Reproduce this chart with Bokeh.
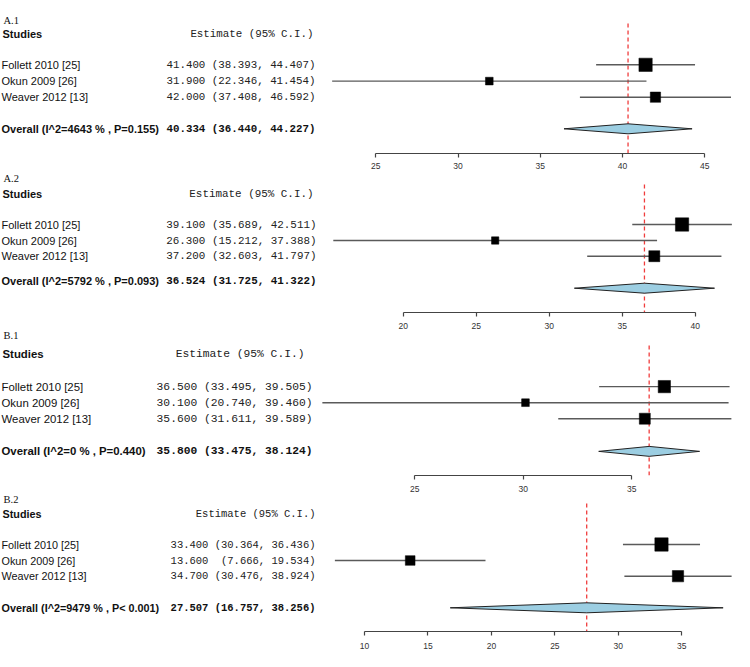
from bokeh.plotting import figure
from bokeh.layouts import column
from bokeh.models import ColumnDataSource, Range1d, LinearAxis, FixedTicker
from bokeh.embed import file_html
from bokeh.resources import INLINE
from bokeh.core.properties import value

# ---------------- data ----------------
studies = ["Follett 2010 [25]", "Okun 2009 [26]", "Weaver 2012 [13]"]
panel_names = ["A.1", "A.2", "B.1", "B.2"]

a1_est = [41.400, 31.900, 42.000]
a1_lo = [38.393, 22.346, 37.408]
a1_hi = [44.407, 41.454, 46.592]
a1_overall = [40.334, 36.440, 44.227]
a1_overall_label = "Overall (I^2=4643 % , P=0.155)"
a1_ticks = [25, 30, 35, 40, 45]
a1_box = [13.3, 7.7, 10.3]

a2_est = [39.100, 26.300, 37.200]
a2_lo = [35.689, 15.212, 32.603]
a2_hi = [42.511, 37.388, 41.797]
a2_overall = [36.524, 31.725, 41.322]
a2_overall_label = "Overall (I^2=5792 % , P=0.093)"
a2_ticks = [20, 25, 30, 35, 40]
a2_box = [13.3, 7.3, 11.0]

b1_est = [36.500, 30.100, 35.600]
b1_lo = [33.495, 20.740, 31.611]
b1_hi = [39.505, 39.460, 39.589]
b1_overall = [35.800, 33.475, 38.124]
b1_overall_label = "Overall (I^2=0 % , P=0.440)"
b1_ticks = [25, 30, 35]
b1_box = [12.3, 7.7, 11.0]

b2_est = [33.400, 13.600, 34.700]
b2_lo = [30.364, 7.666, 30.476]
b2_hi = [36.436, 19.534, 38.924]
b2_overall = [27.507, 16.757, 38.256]
b2_overall_label = "Overall (I^2=9479 % , P< 0.001)"
b2_ticks = [10, 15, 20, 25, 30, 35]
b2_box = [13.3, 9.7, 11.3]

# ---------------- layout (pixels) ----------------
W = 734
SANS = "Liberation Sans"
MONO = "Liberation Mono"
SERIF = "Liberation Serif"

layouts = [
    dict(height=172, frame=153, px_first=375.3, px_last=704.3,
         label_y=19.5, head_y=33.5, rows=[64.3, 80.6, 96.7], ov_text_y=128.3, ov_y=128.3,
         red_top=23, est_right=315, head_right=313, sans=11, mono=10.8, standoff=5),
    dict(height=159, frame=140, px_first=402.7, px_last=694.7,
         label_y=5.5, head_y=21, rows=[52, 68, 83.7], ov_text_y=108.7, ov_y=115.7,
         red_top=12, est_right=316, head_right=313, sans=11, mono=10.9, standoff=6),
    dict(height=163, frame=145, px_first=414.3, px_last=631.3,
         label_y=4.5, head_y=23, rows=[55.5, 71.7, 87.8], ov_text_y=120.7, ov_y=120.7,
         red_top=14, est_right=312, head_right=304, sans=11.4, mono=11.3, standoff=6),
    dict(height=157, frame=137, px_first=364.0, px_last=681.3,
         label_y=4.5, head_y=19, rows=[50, 66, 81.7], ov_text_y=113.3, ov_y=113.3,
         red_top=9, est_right=315, head_right=315, sans=10.8, mono=10.5, standoff=7),
]

data = [
    (a1_est, a1_lo, a1_hi, a1_overall, a1_overall_label, a1_ticks, a1_box),
    (a2_est, a2_lo, a2_hi, a2_overall, a2_overall_label, a2_ticks, a2_box),
    (b1_est, b1_lo, b1_hi, b1_overall, b1_overall_label, b1_ticks, b1_box),
    (b2_est, b2_lo, b2_hi, b2_overall, b2_overall_label, b2_ticks, b2_box),
]


def fmt(e, l, h):
    ci = f"({l:.3f}, {h:.3f})"
    return f"{e:.3f}\u00a0" + "\u00a0" * (16 - len(ci)) + ci


def make_panel(name, d, L):
    est, lo, hi, ov, ov_label, ticks, box = d
    t0, t1 = ticks[0], ticks[-1]
    b = (L["px_last"] - L["px_first"]) / (t1 - t0)
    xs = t0 + (0 - L["px_first"]) / b
    xe = t0 + (W - L["px_first"]) / b
    fh = L["frame"]
    p = figure(width=W, height=L["height"], x_range=Range1d(xs, xe), y_range=Range1d(fh, 0),
               output_backend="svg", toolbar_location=None,
               x_axis_location=None, y_axis_location=None,
               min_border_left=0, min_border_right=0, min_border_top=0,
               min_border_bottom=L["height"] - fh)
    p.outline_line_color = None
    p.background_fill_color = "white"
    p.border_fill_color = "white"
    p.xgrid.grid_line_color = None
    p.ygrid.grid_line_color = None
    p.grid.visible = False
    p.extra_x_ranges = {"px": Range1d(0, W)}

    ax = LinearAxis(ticker=FixedTicker(ticks=ticks), bounds=(t0, t1))
    ax.axis_line_color = "#444444"
    ax.axis_line_width = 1.2
    ax.major_tick_line_color = "#444444"
    ax.major_tick_line_width = 1.2
    ax.major_tick_out = 4
    ax.major_tick_in = 0
    ax.minor_tick_out = 0
    ax.minor_tick_in = 0
    ax.major_label_standoff = L["standoff"]
    ax.major_label_text_font = SANS
    ax.major_label_text_font_size = "8.5px"
    ax.major_label_text_color = "#333333"
    ax.major_label_text_line_height = 1.0
    p.add_layout(ax, "below")

    rows = L["rows"]
    # reference line at overall estimate
    p.segment(x0=[ov[0]], y0=[L["red_top"]], x1=[ov[0]], y1=[fh],
              line_color="#F03C3C", line_width=1.3, line_dash="4 3")
    # confidence intervals
    src = ColumnDataSource(dict(est=est, lo=lo, hi=hi, y=rows, box=box))
    p.segment(x0="lo", y0="y", x1="hi", y1="y", source=src, line_color="#5a5a5a", line_width=1.4)
    p.scatter(x="est", y="y", size="box", marker="square", source=src,
              fill_color="black", line_color="black", line_width=0.5)
    # overall diamond
    dy = L["ov_y"]
    hh = 5
    p.patch(x=[ov[1], ov[0], ov[2], ov[0]], y=[dy, dy - hh, dy, dy + hh],
            fill_color="#9CCEE2", line_color="#222222", line_width=1)

    # table texts
    p.text(x=[3], y=[L["label_y"]], text=[name], x_range_name="px",
           text_font=value(SERIF), text_font_size=value("10.5px"), text_color="#111111",
           text_baseline="middle", text_align="left")
    p.text(x=[2], y=[L["head_y"]], text=["Studies"], x_range_name="px",
           text_font=value(SANS), text_font_size=value(f"{L['sans']}px"), text_font_style="bold",
           text_color="#111111", text_baseline="middle", text_align="left")
    p.text(x=[L["head_right"]], y=[L["head_y"]], text=["Estimate (95% C.I.)"], x_range_name="px",
           text_font=value(MONO), text_font_size=value(f"{L['mono']}px"),
           text_color="#222222", text_baseline="middle", text_align="right")
    tsrc = ColumnDataSource(dict(x=[1] * 3, xr=[L["est_right"]] * 3, y=rows, name=studies,
                                 est=[fmt(e, l, h) for e, l, h in zip(est, lo, hi)]))
    p.text(x="x", y="y", text="name", source=tsrc, x_range_name="px",
           text_font=value(SANS), text_font_size=value(f"{L['sans']}px"),
           text_color="#111111", text_baseline="middle", text_align="left")
    p.text(x="xr", y="y", text="est", source=tsrc, x_range_name="px",
           text_font=value(MONO), text_font_size=value(f"{L['mono']}px"),
           text_color="#222222", text_baseline="middle", text_align="right")
    p.text(x=[1], y=[L["ov_text_y"]], text=[ov_label], x_range_name="px",
           text_font=value(SANS), text_font_size=value(f"{L['sans']}px"), text_font_style="bold",
           text_color="#111111", text_baseline="middle", text_align="left")
    p.text(x=[L["est_right"]], y=[L["ov_text_y"]], text=[fmt(*ov)], x_range_name="px",
           text_font=value(MONO), text_font_size=value(f"{L['mono']}px"), text_font_style="bold",
           text_color="#111111", text_baseline="middle", text_align="right")
    return p


figs = [make_panel(n, d, L) for n, d, L in zip(panel_names, data, layouts)]
page = column(*figs, spacing=0)
open("out.html", "w").write(file_html(page, INLINE))
